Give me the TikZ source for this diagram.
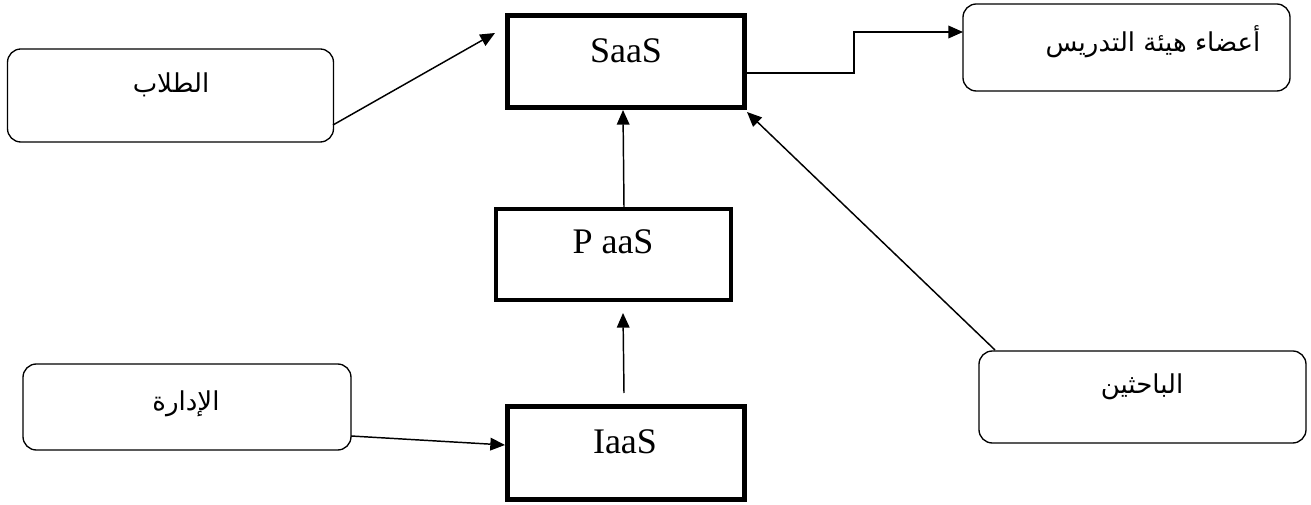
\documentclass[tikz,border=0pt]{standalone}
\usepackage{fontspec}
\setmainfont{Liberation Serif}
\newfontfamily\arabicfont[Script=Arabic]{DejaVu Sans}
\TeXXeTstate=1
\usetikzlibrary{arrows.meta}
\newdimen\pxu
\pxu=0.75pt
\begin{document}
\begin{tikzpicture}[x=0.75pt,y=-0.75pt,
  rbox/.style={draw, line width=1pt, rounded corners=10pt, inner sep=0pt},
  sbox/.style={draw, line width=3.75pt, inner sep=0pt},
  mbox/.style={draw, line width=2.7pt, inner sep=0pt},
  lat/.style={font=\fontsize{27}{30}\selectfont, anchor=base, inner sep=0pt},
  arb/.style={font=\arabicfont\fontsize{19.5}{24}\selectfont, anchor=base, inner sep=0pt},
  conn/.style={line width=1.1pt, -{Triangle[length=11pt,width=9.5pt]}}]
\useasboundingbox (0,0) rectangle (1311,505);
% boxes
\node[rbox, minimum width=326\pxu, minimum height=93\pxu] (stud) at (170.5,95.5) {};
\node[rbox, minimum width=328\pxu, minimum height=86\pxu] (admin) at (187,407) {};
\node[rbox, minimum width=327\pxu, minimum height=87\pxu] (teach) at (1126.5,47.5) {};
\node[rbox, minimum width=327\pxu, minimum height=92\pxu] (res) at (1142.5,397) {};
\node[sbox, minimum width=237\pxu, minimum height=92\pxu] (saas) at (626,61.5) {};
\node[mbox, minimum width=235\pxu, minimum height=91\pxu] (paas) at (613.5,254.5) {};
\node[sbox, minimum width=237\pxu, minimum height=93\pxu] (iaas) at (626,453) {};
% texts
\node[lat] (tsaas) at (626,63) {SaaS};
\node[lat] (tpaas) at (613,254) {P aaS};
\node[lat] (tiaas) at (625,454) {IaaS};
\node[arb] (tstud) at (171,93) {\beginR الطلاب\endR};
\node[arb] (tadmin) at (186,411) {\beginR الإدارة\endR};
\node[arb] (tteach) at (1153,52) {\beginR أعضاء هيئة التدريس\endR};
\node[arb] (tres) at (1142,394) {\beginR الباحثين\endR};
% connector end points
\coordinate (s1) at (333,125);
\coordinate (s2) at (495,33);
\coordinate (t1) at (747,73);
\coordinate (t2) at (854,73);
\coordinate (t3) at (854,32);
\coordinate (t4) at (963,32);
\coordinate (p1) at (624,207);
\coordinate (p2) at (623,110);
\coordinate (i1) at (624,393);
\coordinate (i2) at (623,313);
\coordinate (a1) at (351,436);
\coordinate (a2) at (505,445);
\coordinate (r1) at (995,350);
\coordinate (r2) at (747,112);
% connectors
\draw[conn] (s1) -- (s2);
\draw[conn] (t1) -- (t2) -- (t3) -- (t4);
\draw[conn] (p1) -- (p2);
\draw[conn] (i1) -- (i2);
\draw[conn] (a1) -- (a2);
\draw[conn] (r1) -- (r2);
\end{tikzpicture}
\end{document}
